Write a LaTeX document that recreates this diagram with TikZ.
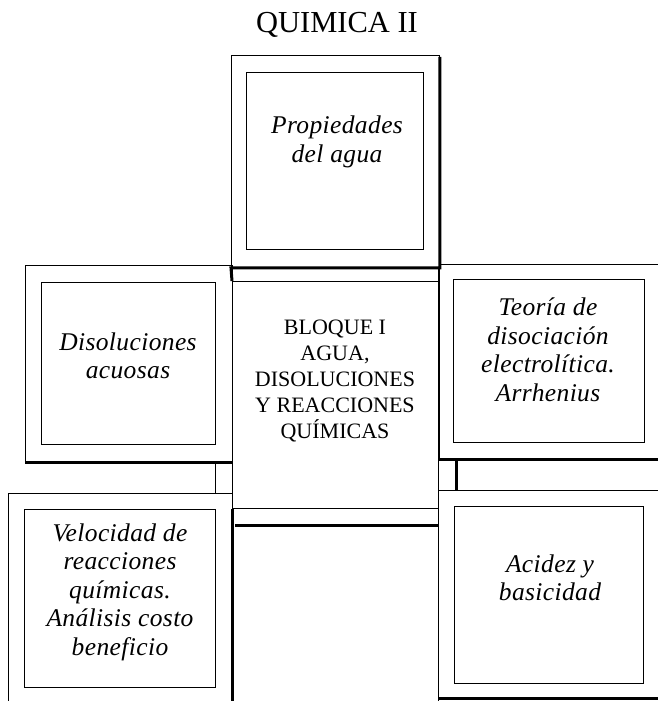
\documentclass[tikz,border=0pt]{standalone}
\usepackage{fontspec}
\setmainfont{Liberation Serif}
\begin{document}
\begin{tikzpicture}[x=1pt, y=-1pt,
        frame/.style={draw, rectangle, line width=0.9pt, inner sep=0pt, anchor=north west},
        thin line/.style={line width=0.9pt},
        shadowline/.style={line width=3pt},
        topic/.style={font=\fontsize{25.5}{28.5}\selectfont\itshape\addfontfeature{LetterSpace=1.5}, align=center},
        block/.style={font=\fontsize{22}{25.8}\selectfont, align=center}
    ]
    \useasboundingbox (0,0) rectangle (658,701);

    \node [font=\fontsize{30.5}{36}\selectfont, anchor=base] (title) at (337,33) {QUIMICA II};

    % frames
    \node [frame, minimum width=208pt, minimum height=212pt] (TO) at (231,55) {};
    \node [frame, minimum width=177pt, minimum height=177pt] (TI) at (246,72) {};
    \node [frame, minimum width=206pt, minimum height=443pt] (CO) at (232,267) {};
    \node [frame, minimum width=206pt, minimum height=227pt] (CB) at (232,281) {};
    \node [frame, minimum width=207pt, minimum height=197pt] (LO) at (25,265) {};
    \node [frame, minimum width=174pt, minimum height=162pt] (LI) at (41,282) {};
    \node [frame, minimum width=224pt, minimum height=217pt] (BLO) at (8,493) {};
    \node [frame, minimum width=191pt, minimum height=178pt] (BLI) at (24,509) {};
    \node [frame, minimum width=231pt, minimum height=195pt] (RO) at (439,264) {};
    \node [frame, minimum width=191pt, minimum height=163pt] (RI) at (453,279) {};
    \node [frame, minimum width=232pt, minimum height=208pt] (BRO) at (438,490) {};
    \node [frame, minimum width=189pt, minimum height=177pt] (BRI) at (454,506) {};

    % texts
    \node [topic] (prop) at (337,142) {Propiedades\\del agua};
    \node [topic] (diso) at (128,356) {Disoluciones\\acuosas};
    \node [topic] (teo) at (548,350) {Teoría de\\disociación\\electrolítica.\\Arrhenius};
    \node [topic] (vel) at (120,592) {Velocidad de\\reacciones\\químicas.\\Análisis costo\\beneficio};
    \node [topic] (aci) at (550,578) {Acidez y\\basicidad};
    \node [block] (bloque) at (335,381) {BLOQUE I\\AGUA,\\DISOLUCIONES\\Y REACCIONES\\QUÍMICAS};

    % shadows and links
    \coordinate (cut) at (235,525);
    \draw [shadowline] ([yshift=-2pt]TO.north east) -- (TO.south east) -- (TO.south west) -- (CB.north west);
    \draw [shadowline] (LO.south west) -- (LO.south east);
    \draw [shadowline] (RO.south west) -- (RO.south east);
    \draw [shadowline] (BRO.south west) -- (BRO.south east);
    \draw [shadowline] (CB.south west) -- (CO.south west);
    \draw [shadowline] (cut) -- (cut -| CO.east);
    \draw [thin line] (LO.south -| LI.east) -- (BLO.north -| LI.east);
    \draw [shadowline] ([xshift=3pt]RO.south -| RI.west) -- ([xshift=3pt]BRO.north -| RI.west);

\end{tikzpicture}
\end{document}
